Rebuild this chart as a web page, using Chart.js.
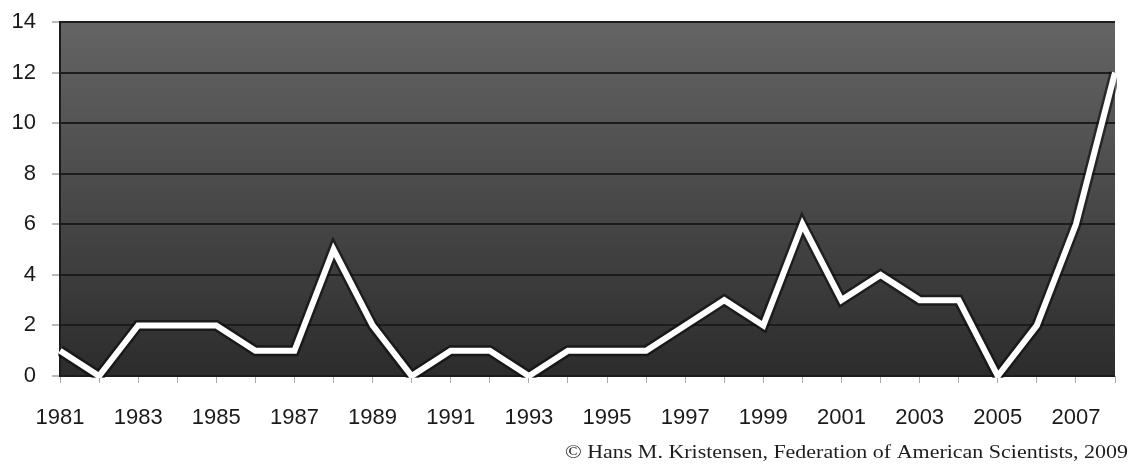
<!DOCTYPE html>
<html>
<head>
<meta charset="utf-8">
<script src="https://cdn.jsdelivr.net/npm/chart.js@4/dist/chart.umd.min.js"></script>
<style>
  html, body { margin: 0; padding: 0; background: #ffffff; }
  #wrap { width: 1134px; height: 465px; position: relative; }
</style>
</head>
<body>
<div id="wrap"><canvas id="c" width="1134" height="465"></canvas></div>
<script>
// Years on the horizontal axis
const years = [1981, 1982, 1983, 1984, 1985, 1986, 1987, 1988, 1989, 1990,
               1991, 1992, 1993, 1994, 1995, 1996, 1997, 1998, 1999, 2000,
               2001, 2002, 2003, 2004, 2005, 2006, 2007, 2008];
// Count per year
const counts = [1, 0, 2, 2, 2, 1, 1, 5, 2, 0,
                1, 1, 0, 1, 1, 1, 2, 3, 2, 6,
                3, 4, 3, 3, 0, 2, 6, 12];
// Value axis ticks
const yTicks = [0, 2, 4, 6, 8, 10, 12, 14];
const credit = '\u00A9 Hans M. Kristensen, Federation of American Scientists, 2009';

// Dark vertical gradient behind the plot
const plotBackground = {
  id: 'plotBackground',
  beforeDraw(chart) {
    const { ctx, chartArea: a } = chart;
    const g = ctx.createLinearGradient(0, a.top, 0, a.bottom);
    g.addColorStop(0, '#646464');
    g.addColorStop(0.5, '#494949');
    g.addColorStop(1, '#2c2c2c');
    ctx.save();
    ctx.fillStyle = g;
    ctx.fillRect(a.left, a.top, a.right - a.left, a.bottom - a.top);
    ctx.restore();
  }
};

// Source line under the axis
const creditLine = {
  id: 'creditLine',
  afterDraw(chart) {
    const ctx = chart.ctx;
    ctx.save();
    ctx.font = '18px "Liberation Serif", "Times New Roman", serif';
    ctx.fillStyle = '#1e1e1e';
    ctx.textBaseline = 'middle';
    const w = ctx.measureText(credit).width;
    const target = 563;
    const right = 1128;
    ctx.translate(right - target, 453);
    ctx.scale(target / w, 1);
    ctx.fillText(credit, 0, 0);
    ctx.restore();
  }
};

const labelFont = { family: '"Liberation Sans", Arial, sans-serif', size: 22 };

new Chart(document.getElementById('c'), {
  type: 'line',
  data: {
    labels: years,
    datasets: [
      {
        // white line, drawn on top
        data: counts,
        order: 1,
        borderColor: '#ffffff',
        borderWidth: 6,
        pointRadius: 0,
        tension: 0,
        fill: false,
        clip: 2
      },
      {
        // dark halo under the white line
        data: counts,
        order: 2,
        borderColor: 'rgba(10,10,10,0.6)',
        borderWidth: 11,
        pointRadius: 0,
        tension: 0,
        fill: false,
        clip: 2
      }
    ]
  },
  options: {
    responsive: false,
    animation: false,
    events: [],
    layout: { padding: { top: 22, right: 19, left: 0, bottom: 0 } },
    plugins: { legend: { display: false }, tooltip: { enabled: false } },
    scales: {
      x: {
        type: 'category',
        offset: false,
        grid: {
          drawOnChartArea: false,
          drawTicks: true,
          tickLength: 7,
          tickColor: '#aaaaaa',
          tickWidth: 1
        },
        border: { display: false },
        ticks: {
          autoSkip: false,
          maxRotation: 0,
          minRotation: 0,
          padding: 22,
          color: '#1a1a1a',
          font: labelFont,
          callback(value, index) {
            const y = years[index];
            return (y % 2 === 1) ? String(y) : '';
          }
        },
        afterFit(scale) {
          scale.height = 89;
          scale.paddingLeft = 0;
          scale.paddingRight = 0;
        }
      },
      y: {
        min: 0,
        max: 14,
        afterBuildTicks(scale) { scale.ticks = yTicks.map(v => ({ value: v })); },
        grid: {
          color: '#1c1c1c',
          lineWidth: 2,
          tickLength: 8,
          tickColor: '#777777',
          tickWidth: 1
        },
        border: { display: true, color: '#1c1c1c', width: 2 },
        ticks: {
          padding: 16,
          color: '#1a1a1a',
          font: labelFont
        },
        afterFit(scale) {
          scale.width = 60;
          scale.paddingTop = 0;
          scale.paddingBottom = 0;
        }
      }
    }
  },
  plugins: [plotBackground, creditLine]
});
</script>
</body>
</html>
